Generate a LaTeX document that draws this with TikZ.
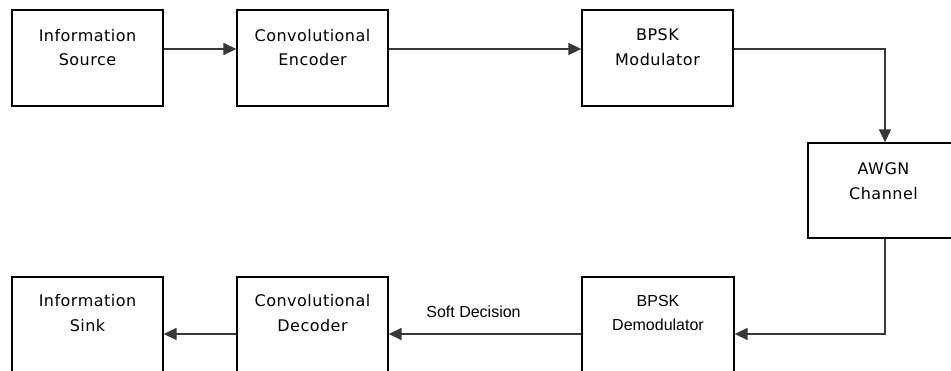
\documentclass[tikz,border=0pt]{standalone}
\usepackage{fontspec}
\setmainfont{DejaVu Sans}[LetterSpace=3]
\newfontfamily\arialf{Liberation Sans}
\usetikzlibrary{arrows.meta}
\tikzset{
  blockbox/.style={draw=black, line width=1.3pt, fill=white, inner sep=0pt, minimum width=151pt, minimum height=96pt},
  lbl/.style={anchor=base, inner sep=0pt, font=\fontsize{16pt}{18pt}\selectfont},
  albl/.style={anchor=base, inner sep=0pt, font=\arialf\fontsize{16pt}{18pt}\selectfont},
  conn/.style={draw=black!78, line width=1.4pt, -{Triangle[length=13pt,width=12pt]}}
}
\begin{document}
\begin{tikzpicture}[x=1pt,y=-1pt]
\useasboundingbox (0,0) rectangle (951,370);
\clip (0,0) rectangle (951,370);
\fill[white] (0,0) rectangle (951,370);
% boxes
\node[blockbox] (src) at (87.5,58) {};
\node[blockbox] (enc) at (312.5,58) {};
\node[blockbox] (mod) at (657.5,58) {};
\node[blockbox, minimum height=95pt] (awgn) at (883.5,190.5) {};
\node[blockbox] (sink) at (87.5,325) {};
\node[blockbox] (dec) at (312.5,325) {};
\node[blockbox, minimum width=152pt] (demod) at (658,325) {};
% labels
\node[lbl] (srcA) at (87.5,41) {Information};
\node[lbl] (srcB) at (87.5,65) {Source};
\node[lbl] (encA) at (312.5,41) {Convolutional};
\node[lbl] (encB) at (312.5,65) {Encoder};
\node[lbl] (modA) at (657.5,40) {BPSK};
\node[lbl] (modB) at (657.5,65) {Modulator};
\node[lbl] (awgnA) at (883.5,174) {AWGN};
\node[lbl] (awgnB) at (883.5,199) {Channel};
\node[lbl] (sinkA) at (87.5,306) {Information};
\node[lbl] (sinkB) at (87.5,331) {Sink};
\node[lbl] (decA) at (312.5,306) {Convolutional};
\node[lbl] (decB) at (312.5,331) {Decoder};
\node[albl] (demA) at (658,306) {BPSK};
\node[albl] (demB) at (658,330) {Demodulator};
\node[albl] (soft) at (473.5,317) {Soft Decision};
% connectors
\draw[conn] ([yshift=9pt]src.east) -- ([yshift=9pt]enc.west);
\draw[conn] ([yshift=9pt]enc.east) -- ([yshift=9pt]mod.west);
\draw[conn] ([yshift=9pt]mod.east) -| ([xshift=1.5pt]awgn.north);
\draw[conn] ([xshift=1.5pt]awgn.south) |- ([yshift=-9pt]demod.east);
\draw[conn] ([yshift=-9pt]demod.west) -- ([yshift=-9pt]dec.east);
\draw[conn] ([yshift=-9pt]dec.west) -- ([yshift=-9pt]sink.east);
\end{tikzpicture}
\end{document}
